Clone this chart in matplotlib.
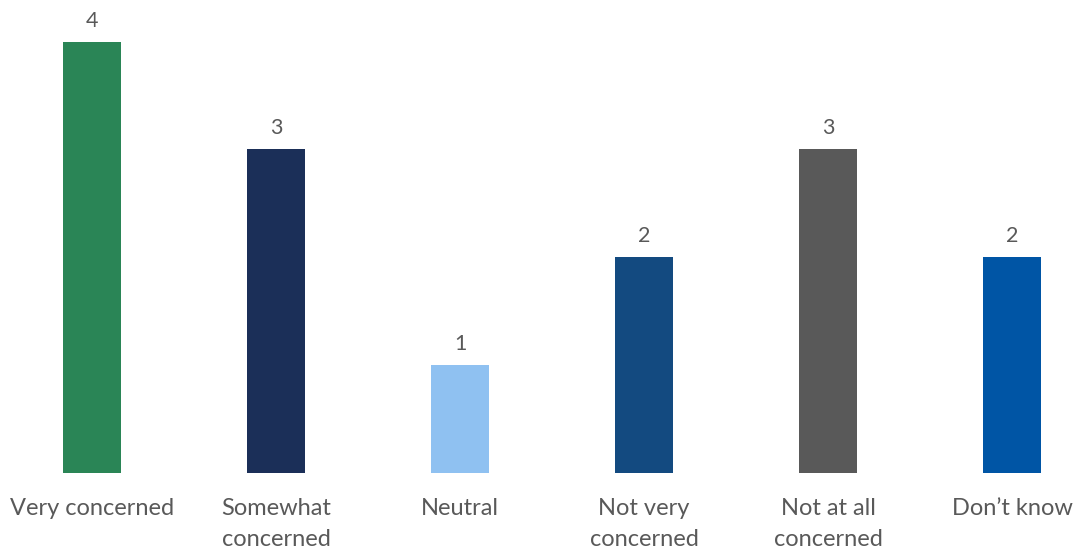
import matplotlib
matplotlib.use("Agg")
import matplotlib.pyplot as plt

categories = ["Very concerned", "Somewhat\nconcerned", "Neutral",
              "Not very\nconcerned", "Not at all\nconcerned", "Don\u2019t know"]
values = [4, 3, 1, 2, 3, 2]
colors = ["#2A8556", "#1B2F58", "#8FC1F1", "#134A80", "#595959", "#0055A5"]

plt.rcParams["font.family"] = ["Lato", "DejaVu Sans"]
text_color = "#595959"

W, H = 1076, 550
fig = plt.figure(figsize=(W / 100, H / 100), dpi=100)
base_px = 472.7
ax = fig.add_axes([0, (H - base_px) / H, 1, base_px / H])

spacing = 184.0
x = list(range(len(categories)))
ax.bar(x, values, width=58 / spacing, color=colors)

ax.set_xlim(-92 / spacing, -92 / spacing + W / spacing)
ax.set_ylim(0, base_px / 107.75)

for xi, v in zip(x, values):
    ax.annotate(str(v), (xi, v), xytext=(0, 8), textcoords="offset points",
                ha="center", va="bottom", fontsize=15.5, color=text_color)

ax.set_xticks(x)
ax.set_xticklabels(categories, fontsize=17, color=text_color, linespacing=1.6)
ax.tick_params(axis="x", length=0, pad=18)
ax.set_yticks([])
for s in ax.spines.values():
    s.set_visible(False)

fig.savefig("out.png", dpi=100, facecolor="white")
